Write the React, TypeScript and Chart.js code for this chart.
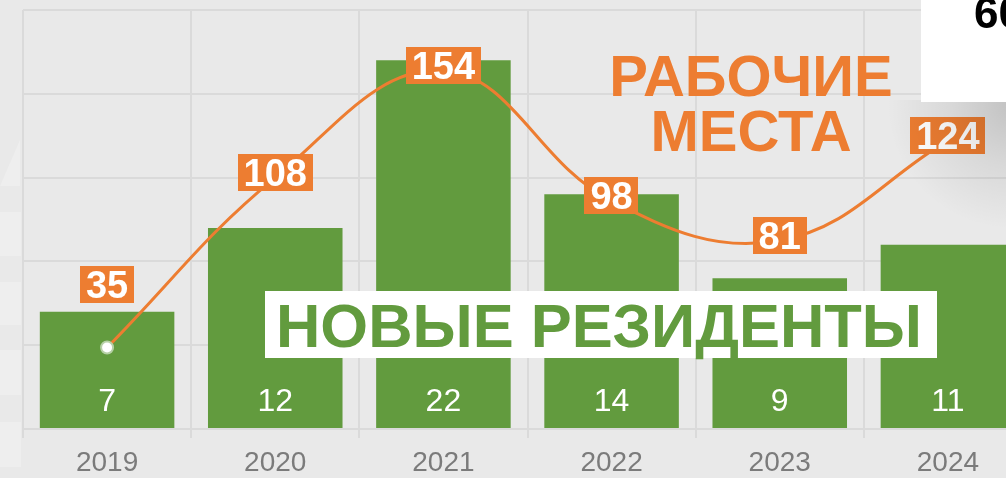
import React, { useEffect, useRef } from "react";
import { Chart, registerables } from "chart.js";

Chart.register(...registerables);

// ---- data ----
const years = ["2019", "2020", "2021", "2022", "2023", "2024"];
const newResidents = [7, 12, 22, 14, 9, 11];
const workplaces = [35, 108, 154, 98, 81, 124];
const residentsAxis = { min: 0, max: 25, step: 5 };
const workplacesAxis = { min: 0, max: 180 };
const residentsTitle = "НОВЫЕ РЕЗИДЕНТЫ";
const workplacesTitle = ["РАБОЧИЕ", "МЕСТА"];
const cornerText = "60";

// ---- styles ----
const FONT = '"Liberation Sans", Arial, Helvetica, sans-serif';
const GREEN = "#629B3E";
const ORANGE = "#ED7D31";
const GRID = "#DADADA";
const BG = "#E9E9E9";

const backgroundPlugin = {
  id: "bgPaint",
  beforeDraw(chart: any) {
    const ctx = chart.ctx as CanvasRenderingContext2D;
    ctx.save();
    ctx.fillStyle = BG;
    ctx.fillRect(0, 0, chart.width, chart.height);
    // faded blocks on the left edge
    ctx.fillStyle = "#EEEEEE";
    ctx.fillRect(0, 212, 21, 44);
    ctx.fillRect(0, 282, 21, 43);
    ctx.fillRect(0, 350, 21, 45);
    ctx.fillRect(0, 422, 21, 45);
    ctx.beginPath();
    ctx.moveTo(0, 186);
    ctx.lineTo(20, 186);
    ctx.lineTo(20, 140);
    ctx.closePath();
    ctx.fill();
    ctx.restore();
  },
};

const valueLabelsPlugin = {
  id: "valueLabels",
  afterDatasetsDraw(chart: any) {
    const ctx = chart.ctx as CanvasRenderingContext2D;
    const lineMeta = chart.getDatasetMeta(0);
    const barMeta = chart.getDatasetMeta(1);
    const y0 = chart.scales.y.getPixelForValue(0);
    ctx.save();
    ctx.textAlign = "center";
    ctx.textBaseline = "alphabetic";
    ctx.font = `32px ${FONT}`;
    ctx.fillStyle = "#FFFFFF";
    barMeta.data.forEach((el: any, i: number) => {
      ctx.fillText(String(newResidents[i]), el.x, y0 - 30 + 11.5);
    });
    ctx.font = `bold 38px ${FONT}`;
    lineMeta.data.forEach((el: any, i: number) => {
      const txt = String(workplaces[i]);
      const w = ctx.measureText(txt).width + 12;
      const h = 37;
      const cy = el.y - (i === 0 ? 63.5 : 5);
      ctx.fillStyle = ORANGE;
      ctx.fillRect(Math.round(el.x - w / 2), Math.round(cy - h / 2), Math.round(w), h);
      ctx.fillStyle = "#FFFFFF";
      ctx.fillText(txt, el.x, cy + 13.6);
    });
    ctx.restore();
  },
};

const overlayPlugin = {
  id: "overlays",
  afterDraw(chart: any) {
    const ctx = chart.ctx as CanvasRenderingContext2D;
    ctx.save();
    // shadow cast by the corner box
    const g = ctx.createRadialGradient(1012, 104, 0, 1012, 104, 125);
    g.addColorStop(0, "rgba(0,0,0,0.17)");
    g.addColorStop(0.5, "rgba(0,0,0,0.07)");
    g.addColorStop(1, "rgba(0,0,0,0)");
    ctx.fillStyle = g;
    ctx.fillRect(860, 100, 180, 140);
    // residents caption
    ctx.fillStyle = "#FFFFFF";
    ctx.fillRect(265, 291, 672, 67);
    ctx.font = `bold 62px ${FONT}`;
    ctx.textAlign = "center";
    ctx.textBaseline = "alphabetic";
    const mw = ctx.measureText(residentsTitle).width;
    const sx = 646 / mw;
    ctx.save();
    ctx.translate(599, 347);
    ctx.scale(sx, 1);
    ctx.fillStyle = GREEN;
    ctx.fillText(residentsTitle, 0, 0);
    ctx.restore();
    // workplaces caption
    ctx.font = `bold 58px ${FONT}`;
    ctx.fillStyle = ORANGE;
    ctx.fillText(workplacesTitle[0], 751, 96);
    ctx.fillText(workplacesTitle[1], 751, 151);
    // corner box
    ctx.fillStyle = "#FFFFFF";
    ctx.fillRect(921, 0, 120, 102);
    ctx.fillStyle = "#000000";
    ctx.textAlign = "left";
    ctx.font = `bold 44px ${FONT}`;
    ctx.fillText(cornerText, 974, 28);
    ctx.restore();
  },
};

export default function App() {
  const ref = useRef<HTMLCanvasElement>(null);
  useEffect(() => {
    const canvas = ref.current;
    if (!canvas) return;
    document.body.style.margin = "0";
    document.body.style.overflow = "hidden";
    const chart = new Chart(canvas, {
      type: "bar",
      data: {
        labels: years,
        datasets: [
          {
            type: "line",
            label: "Рабочие места",
            data: workplaces,
            yAxisID: "y2",
            borderColor: ORANGE,
            borderWidth: 3,
            tension: 0.4,
            fill: false,
            pointRadius: workplaces.map((_, i) => (i === 0 ? 6 : 0)),
            pointHoverRadius: 0,
            pointBackgroundColor: "#FFFFFF",
            pointBorderColor: "#B6D0A6",
            pointBorderWidth: 2,
            clip: false as any,
            order: 0,
          } as any,
          {
            type: "bar",
            label: "Новые резиденты",
            data: newResidents,
            yAxisID: "y",
            backgroundColor: GREEN,
            barPercentage: 0.8,
            categoryPercentage: 1,
            order: 1,
          },
        ],
      },
      options: {
        responsive: false,
        animation: false,
        devicePixelRatio: 1,
        layout: { padding: { top: 10, left: 23, right: 5.4, bottom: 2.4 } },
        plugins: { legend: { display: false }, tooltip: { enabled: false } },
        scales: {
          x: {
            offset: true,
            grid: { offset: true, color: GRID, lineWidth: 2, tickLength: 9, drawTicks: true },
            border: { display: false },
            ticks: { color: "#7B7B7B", padding: 8, font: { family: FONT, size: 28 } },
          },
          y: {
            min: residentsAxis.min,
            max: residentsAxis.max,
            ticks: { stepSize: residentsAxis.step, display: false },
            grid: { color: GRID, lineWidth: 2, drawTicks: false },
            border: { display: false },
          },
          y2: {
            display: false,
            min: workplacesAxis.min,
            max: workplacesAxis.max,
          },
        },
      },
      plugins: [backgroundPlugin, valueLabelsPlugin, overlayPlugin],
    } as any);
    return () => chart.destroy();
  }, []);

  return (
    <div
      style={{
        position: "fixed",
        left: 0,
        top: 0,
        width: 1006,
        height: 478,
        overflow: "hidden",
        background: BG,
      }}
    >
      <canvas ref={ref} width={1040} height={490} style={{ display: "block", width: 1040, height: 490 }} />
    </div>
  );
}
